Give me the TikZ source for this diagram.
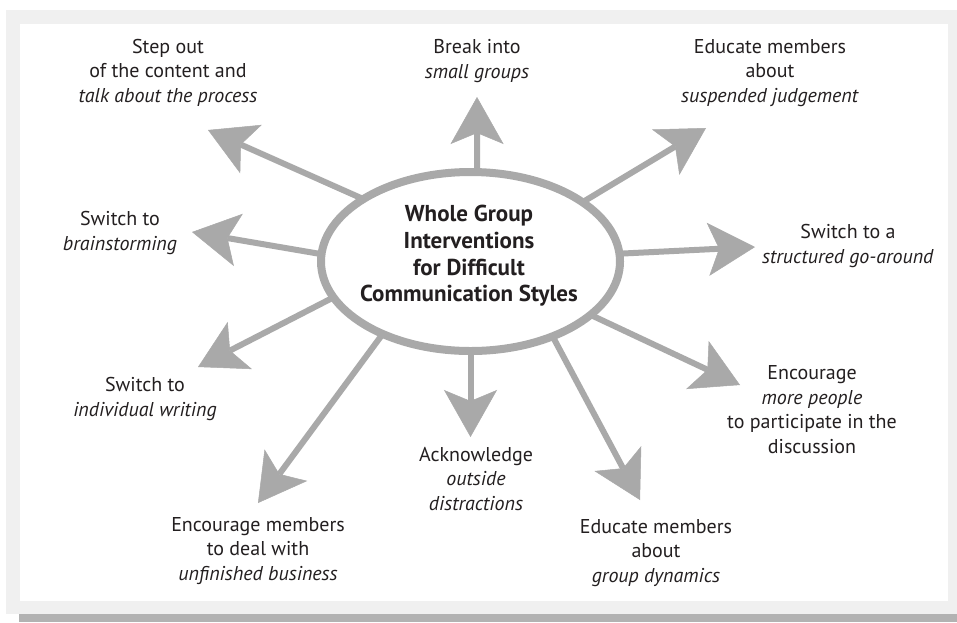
\documentclass[tikz,border=0pt]{standalone}
\usepackage{fontspec}
\setmainfont{PT Sans}
\usetikzlibrary{arrows.meta,shapes.geometric}

\definecolor{framegray}{HTML}{F0F0F0}
\definecolor{bargray}{HTML}{B2B2B2}
\definecolor{spokegray}{HTML}{A9A9A9}
\definecolor{ink}{HTML}{231F20}

\tikzset{
  spoke/.style={draw=spokegray, line width=6pt, shorten <=-4pt,
    -{Stealth[length=47pt,width=53pt,inset=11pt,line width=0.5pt]}},
  hub/.style={ellipse, draw=spokegray, line width=8pt, fill=white,
    minimum width=299pt, minimum height=179pt, inner sep=0pt},
  % anchored on the baseline of the last line
  lbl/.style={anchor=base, align=center, text=ink, inner sep=0pt,
    font=\fontsize{20}{24.5}\selectfont},
}

\begin{document}
\begin{tikzpicture}[x=1pt,y=-1pt]
      \useasboundingbox (0,0) rectangle (957,622);
      % Frame
      \fill[white] (0,0) rectangle (957,622);
      \fill[framegray] (6,10) rectangle (957,614);
      \fill[bargray] (19,614) rectangle (957,622);
      \fill[white] (20,24) rectangle (948,601);
      % Centre ellipse
      \node[hub] (hub) at (470.5,261.5) {};
      \node[align=center, text=ink, inner sep=0pt,
        font=\bfseries\fontsize{23}{26.7}\selectfont] (title) at (469,256)
        {Whole Group\\Interventions\\for Difficult\\Communication Styles};
      % Arrow ends
      \coordinate (endstep) at (208,130);
      \coordinate (endgroups) at (477,97);
      \coordinate (endjudge) at (706,128);
      \coordinate (endbrain) at (192,232);
      \coordinate (endround) at (755,247);
      \coordinate (endwrite) at (198,367);
      \coordinate (endpeople) at (740,385);
      \coordinate (endbusiness) at (258,503);
      \coordinate (enddistract) at (470.5,437);
      \coordinate (enddynamics) at (640,500);
      % Spokes
      \draw[spoke] (hub.150) -- (endstep);
      \draw[spoke] (hub.86) -- (endgroups);
      \draw[spoke] (hub.28) -- (endjudge);
      \draw[spoke] (hub.177.6) -- (endbrain);
      \draw[spoke] (hub.3.5) -- (endround);
      \draw[spoke] (hub.195.8) -- (endwrite);
      \draw[spoke] (hub.336.8) -- (endpeople);
      \draw[spoke] (hub.220) -- (endbusiness);
      \draw[spoke] (hub.270) -- (enddistract);
      \draw[spoke] (hub.317.4) -- (enddynamics);
      % Labels
      \node[lbl] (stepout) at (168,102) {Step out\\of the content and\\\textit{talk about the process}};
      \node[lbl] (groups) at (477,78) {Break into\\\textit{small groups}};
      \node[lbl] (judge) at (770,102) {Educate members\\about\\\textit{suspended judgement}};
      \node[lbl] (brain) at (120,250) {Switch to\\\textit{brainstorming}};
      \node[lbl] (round) at (848,263) {Switch to a\\\textit{structured go-around}};
      \node[lbl] (write) at (145,416) {Switch to\\\textit{individual writing}};
      \node[lbl] (people) at (812,453) {Encourage\\\textit{more people}\\to participate in the\\discussion};
      \node[lbl] (business) at (258,580) {Encourage members\\to deal with\\\textit{unfinished business}};
      \node[lbl] (distract) at (476,510) {Acknowledge\\\textit{outside}\\\textit{distractions}};
      \node[lbl] (dynamics) at (656,582) {Educate members\\about\\\textit{group dynamics}};
\end{tikzpicture}
\end{document}
